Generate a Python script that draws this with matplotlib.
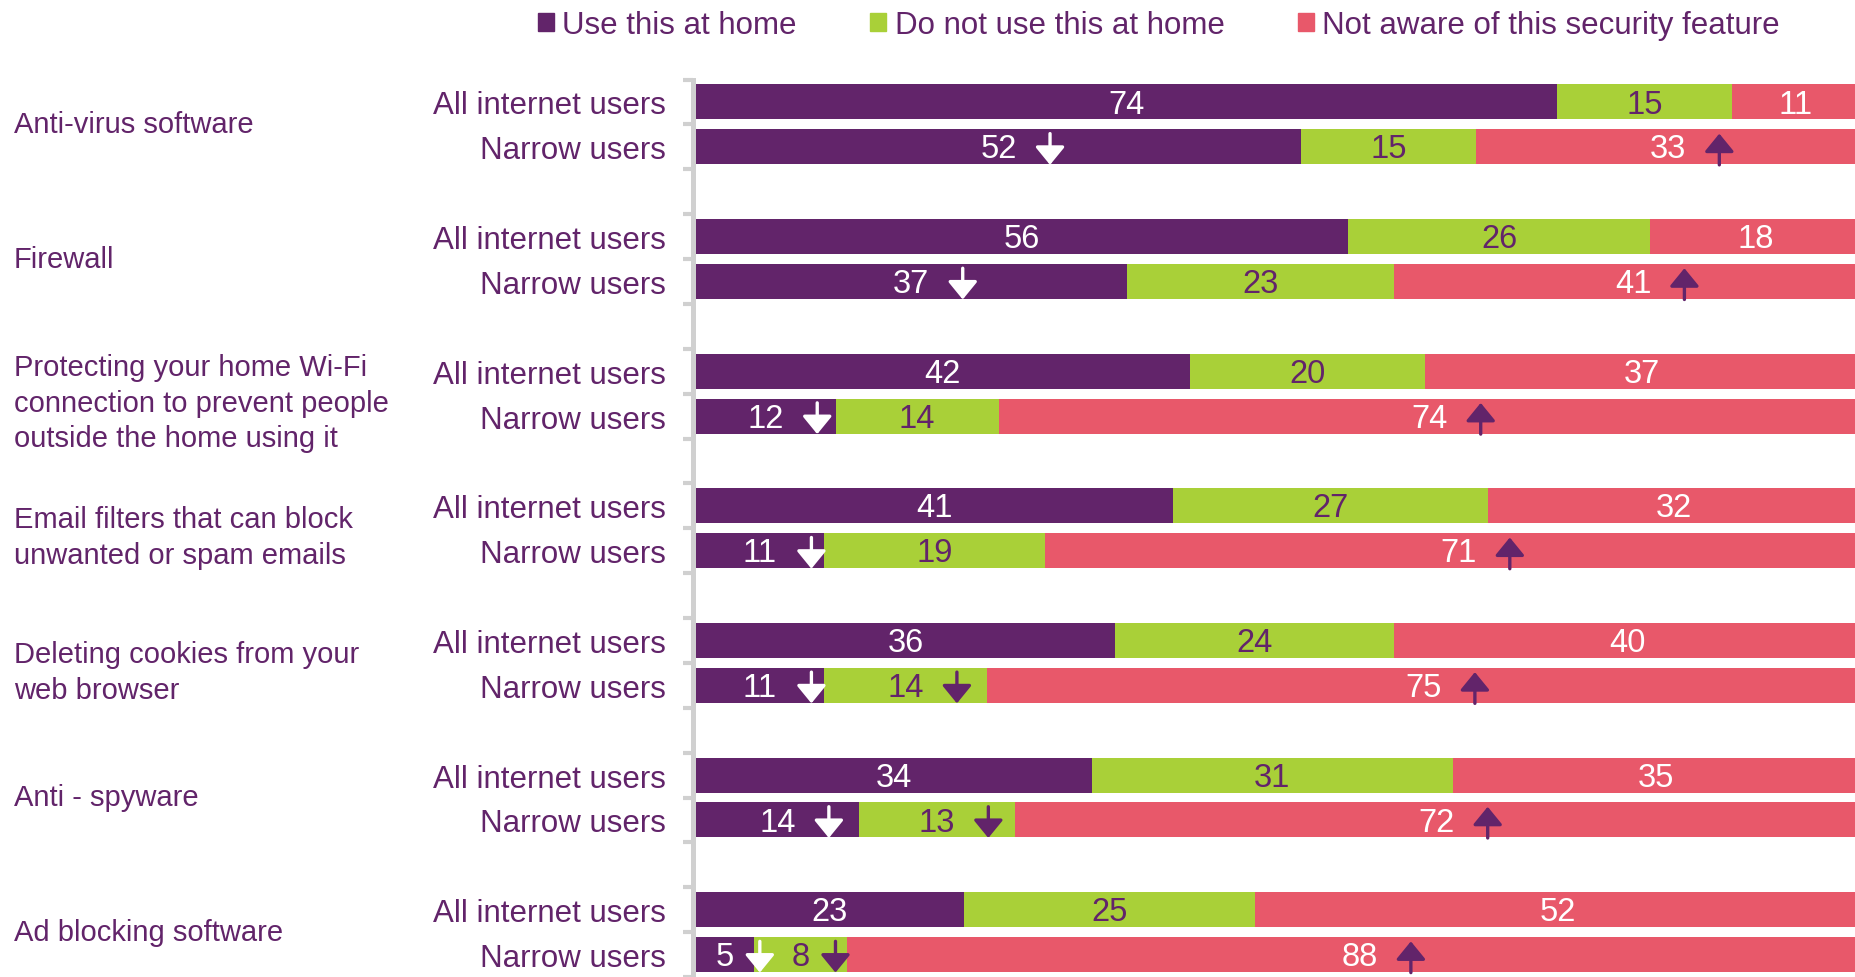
import numpy as np
import matplotlib
matplotlib.use('Agg')
import matplotlib.pyplot as plt
from matplotlib.patches import Patch
from matplotlib.transforms import offset_copy, blended_transform_factory

plt.rcParams['font.family'] = ['Liberation Sans', 'DejaVu Sans']

# data (percentages, labels are shown rounded)
features = ['Anti-virus software',
            'Firewall',
            'Protecting your home Wi-Fi\nconnection to prevent people\noutside the home using it',
            'Email filters that can block\nunwanted or spam emails',
            'Deleting cookies from your\nweb browser',
            'Anti - spyware',
            'Ad blocking software']
groups = ['All internet users', 'Narrow users']
series = ['Use this at home', 'Do not use this at home', 'Not aware of this security feature']

use_all = [74, 56, 42.4, 41, 36, 34, 23]
notuse_all = [15, 26, 20.2, 27, 24, 31, 25]
unaware_all = [11, 18, 37.4, 32, 40, 35, 52]

use_narrow = [52, 37, 12, 11, 11, 14, 5]
notuse_narrow = [15, 23, 14, 19, 14, 13.4, 8]
unaware_narrow = [33, 41, 74, 71, 75, 72.4, 88]

# narrow users vs all users: -1 significantly lower, 1 higher, 0 no arrow
sig_use = [-1, -1, -1, -1, -1, -1, -1]
sig_notuse = [0, 0, 0, 0, -1, -1, -1]
sig_unaware = [1, 1, 1, 1, 1, 1, 1]

purple = '#62246A'
green = '#A9D038'
red = '#E8586A'
grey = '#D0D0D0'
colors = [purple, green, red]
text_cols = ['white', purple, 'white']

fig = plt.figure(figsize=(18.56, 9.78), dpi=100)
ax = fig.add_axes([696 / 1856, 0, 1164 / 1856, 1 - 80.5 / 978])

n = len(features)
y_all = np.arange(n) * 3
y_nar = np.arange(n) * 3 + 1
h = 35 / 45

all_vals = [use_all, notuse_all, unaware_all]
nar_vals = [use_narrow, notuse_narrow, unaware_narrow]
sigs = [sig_use, sig_notuse, sig_unaware]

txt_tr = offset_copy(ax.transData, fig=fig, x=0, y=-1.5, units='points')


def arrow(x, y, direction, col, dx):
    # arrow drawn in points around the bar centre
    if direction < 0:
        tail, tip = 9.5, -13
    else:
        tail, tip = -13, 9.5
    tr = offset_copy(ax.transData, fig=fig, x=dx, y=tip, units='points')
    ax.annotate('', xy=(x, y), xycoords=tr,
                xytext=(0, tail - tip), textcoords='offset points',
                arrowprops=dict(arrowstyle='-|>,head_length=0.55,head_width=0.45',
                                mutation_scale=20, color=col, lw=2.4,
                                shrinkA=0, shrinkB=0))


left_a = np.zeros(n)
left_n = np.zeros(n)
for k in range(3):
    va = np.array(all_vals[k], dtype=float)
    vn = np.array(nar_vals[k], dtype=float)
    ax.barh(y_all, va, height=h, left=left_a, color=colors[k], label=series[k])
    ax.barh(y_nar, vn, height=h, left=left_n, color=colors[k])
    for i in range(n):
        xa = left_a[i] + va[i] / 2
        ax.text(xa, y_all[i], '%.0f' % va[i], ha='center', va='center',
                fontsize=23.5, color=text_cols[k], transform=txt_tr)
        xn = left_n[i] + vn[i] / 2
        ax.text(xn, y_nar[i], '%.0f' % vn[i], ha='center', va='center',
                fontsize=23.5, color=text_cols[k], transform=txt_tr)
        if sigs[k][i] != 0:
            col = 'white' if k == 0 else purple
            dx = 37 if vn[i] >= 10 else 25
            arrow(xn, y_nar[i], sigs[k][i], col, dx)
    left_a += va
    left_n += vn

ax.set_xlim(0, 100)
ax.set_ylim(19.44, -0.5)

ticks = np.concatenate([y_all, y_nar])
ax.set_yticks(ticks)
ax.set_yticklabels([groups[0]] * n + [groups[1]] * n)
ax.set_yticks(np.arange(-0.5, 20, 1), minor=True)
ax.tick_params(axis='y', which='major', length=0, pad=19, labelsize=22.5, labelcolor=purple)
ax.tick_params(axis='y', which='minor', length=7, width=3, color=grey)
ax.set_xticks([])

for s in ['top', 'right', 'bottom']:
    ax.spines[s].set_visible(False)
ax.spines['left'].set_color(grey)
ax.spines['left'].set_linewidth(3.6)
ax.spines['left'].set_position(('outward', 2.5))

tr = blended_transform_factory(fig.transFigure, ax.transData)
for i in range(n):
    # wrapped labels sit a little lower in the original layout
    shift = 0.2 if '\n' in features[i] else 0.0
    ax.text(14 / 1856, y_all[i] + 0.5 + shift, features[i], transform=tr, ha='left',
            va='center', fontsize=21, color=purple, linespacing=1.35, clip_on=False)

handles = [Patch(color=c) for c in colors]
fig.legend(handles, series, loc='center', bbox_to_anchor=(0.6245, 1 - 26 / 978), ncol=3,
           frameon=False, fontsize=22.5, handlelength=0.5, handleheight=0.5,
           handletextpad=0.28, columnspacing=2.35, labelcolor=purple,
           borderpad=0, borderaxespad=0)

fig.savefig('out.png', dpi=100)
